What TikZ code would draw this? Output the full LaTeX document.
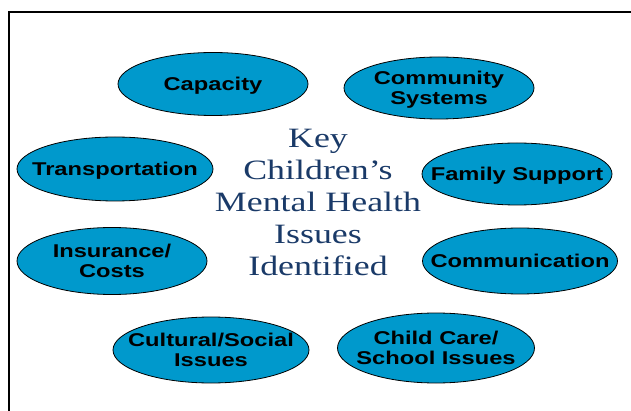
\documentclass[tikz,border=0pt]{standalone}
\usepackage{fontspec}
\setmainfont{Liberation Serif}
\setsansfont{Liberation Sans}
\usepackage{graphicx}
\usetikzlibrary{shapes.geometric}
\definecolor{issueblue}{RGB}{0,153,204}
\definecolor{keynavy}{RGB}{26,58,104}
\newcommand{\wtext}[1]{\scalebox{1.28}[1]{#1}}

\begin{document}
\begin{tikzpicture}[x=1pt,y=-1pt,
    issue node/.style={ellipse,draw,fill=issueblue,line width=0.8pt,
      inner xsep=-25pt,inner ysep=0pt,text depth=0pt,align=center,
      font=\sffamily\bfseries\fontsize{18.5}{20}\selectfont},
    key text/.style={inner sep=0pt,align=center,text=keynavy,
      font=\fontsize{28}{32}\selectfont}]
  \useasboundingbox (0,0) rectangle (631,411);
  \draw[line width=2pt] (631,12) -| (9,411);

  \node[key text] (key) at (318,202.5)
    {\wtext{Key}\\\wtext{Children’s}\\\wtext{Mental Health}\\\wtext{Issues}\\\wtext{Identified}};

  \node[issue node,minimum width=190pt,minimum height=63pt] (capacity) at (213,84) {\wtext{Capacity}};
  \node[issue node,minimum width=190pt,minimum height=62pt] (community) at (439,88) {\wtext{Community}\\\wtext{Systems}};
  \node[issue node,minimum width=196pt,minimum height=64pt] (transport) at (115,169) {\wtext{Transportation}};
  \node[issue node,minimum width=190pt,minimum height=62pt] (family) at (517,174) {\wtext{Family Support}};
  \node[issue node,minimum width=190pt,minimum height=67pt] (insurance) at (112,261) {\wtext{Insurance/}\\\wtext{Costs}};
  \node[issue node,minimum width=195pt,minimum height=66pt] (communication) at (520,261) {\wtext{Communication}};
  \node[issue node,minimum width=196pt,minimum height=66pt] (cultural) at (211,350) {\wtext{Cultural/Social}\\\wtext{Issues}};
  \node[issue node,minimum width=197pt,minimum height=70pt] (childcare) at (436,348) {\wtext{Child Care/}\\\wtext{School Issues}};
\end{tikzpicture}
\end{document}
